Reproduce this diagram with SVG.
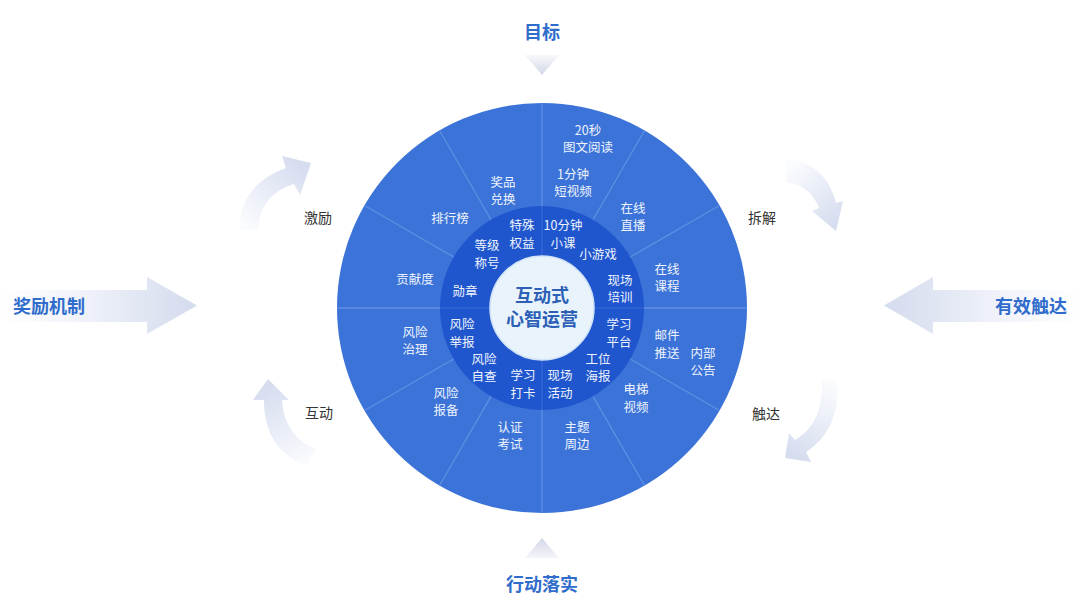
<svg xmlns="http://www.w3.org/2000/svg" width="1080" height="605" viewBox="0 0 1080 605">
<defs>
<style>
text{font-family:"Noto Sans CJK SC","Noto Sans",sans-serif;text-anchor:middle;dominant-baseline:central}
.t{font-size:12.5px;fill:#eef3fd}
.ttl{font-size:18px;font-weight:bold;fill:#2f6ccb}
.side{font-size:14px;fill:#333333}
.ctr{font-size:18px;font-weight:bold;fill:#2c5fb6}
.div{stroke:#5d8fe3;stroke-width:1.3;fill:none}
.divi{stroke:#3a6ad8;stroke-width:1.2;fill:none}
</style>
<linearGradient id="gL" gradientUnits="userSpaceOnUse" x1="0" y1="0" x2="197" y2="0">
<stop offset="0" stop-color="#ffffff"/><stop offset="0.35" stop-color="#f3f5fb"/><stop offset="1" stop-color="#d4dbed"/>
</linearGradient>
<linearGradient id="gR" gradientUnits="userSpaceOnUse" x1="1080" y1="0" x2="884" y2="0">
<stop offset="0" stop-color="#ffffff"/><stop offset="0.35" stop-color="#f3f5fb"/><stop offset="1" stop-color="#d4dbed"/>
</linearGradient>
<linearGradient id="gT" gradientUnits="userSpaceOnUse" x1="0" y1="55" x2="0" y2="75">
<stop offset="0" stop-color="#f7f8fb"/><stop offset="1" stop-color="#d3d8e7"/>
</linearGradient>
<linearGradient id="gB" gradientUnits="userSpaceOnUse" x1="0" y1="538" x2="0" y2="558">
<stop offset="0" stop-color="#d3d8e7"/><stop offset="1" stop-color="#f5f6fa"/>
</linearGradient>
<linearGradient id="g1" gradientUnits="userSpaceOnUse" x1="248" y1="230" x2="300" y2="165">
<stop offset="0" stop-color="#fbfcfe"/><stop offset="1" stop-color="#d6ddef"/>
</linearGradient>
<linearGradient id="g2" gradientUnits="userSpaceOnUse" x1="785" y1="170" x2="835" y2="225">
<stop offset="0" stop-color="#fbfcfe"/><stop offset="1" stop-color="#d6ddef"/>
</linearGradient>
<linearGradient id="g3" gradientUnits="userSpaceOnUse" x1="830" y1="382" x2="793" y2="455">
<stop offset="0" stop-color="#fbfcfe"/><stop offset="1" stop-color="#d6ddef"/>
</linearGradient>
<linearGradient id="g4" gradientUnits="userSpaceOnUse" x1="312" y1="462" x2="268" y2="385">
<stop offset="0" stop-color="#fbfcfe"/><stop offset="1" stop-color="#d6ddef"/>
</linearGradient>
</defs>
<rect width="1080" height="605" fill="#ffffff"/>

<g id="connectors">
<path d="M0,290 L147,290 L147,277 L197,305.5 L147,334 L147,322 L0,322 Z" fill="url(#gL)"/>
<path d="M1080,290 L933,290 L933,277 L884,305.5 L933,334 L933,322 L1080,322 Z" fill="url(#gR)"/>
<path d="M525,55 L559,55 L542,75 Z" fill="url(#gT)"/>
<path d="M542,538 L559,558 L525,558 Z" fill="url(#gB)"/>
<path d="M239,230 C239,201 255,179 286,168 L282,156 L311,163 L300,195 L294,184 C271,191 259,207 258,230 Z" fill="url(#g1)"/>
<path d="M786,160 C810,160 829,175 836,203 L843,201 L836,231 L812,211 L819,208 C814,195 804,184 786,182 Z" fill="url(#g2)"/>
<path d="M837,380 C840,410 830,437 806,452 L811,462 L785,458 L789,433 L795,440 C815,428 823,408 822,380 Z" fill="url(#g3)"/>
<path d="M268,379 L289,400 L282,400 C283,422 294,440 316,449 L306,466 C279,455 264,434 264,400 L253,400 Z" fill="url(#g4)"/>
</g>

<g id="title-top"><text class="ttl" x="542" y="31">目标</text></g>
<g id="title-bottom"><text class="ttl" x="542" y="583">行动落实</text></g>
<g id="title-left"><text class="ttl" x="49" y="305">奖励机制</text></g>
<g id="title-right"><text class="ttl" x="1031" y="305">有效触达</text></g>
<g id="label-jili"><text class="side" x="318" y="217">激励</text></g>
<g id="label-hudong"><text class="side" x="319" y="412">互动</text></g>
<g id="label-chaijie"><text class="side" x="762" y="217">拆解</text></g>
<g id="label-chuda"><text class="side" x="766" y="413">触达</text></g>

<g id="outer-ring">
<circle cx="542" cy="308" r="205" fill="#3c73d8"/>
<path class="div" d="M644,308 L747,308 M630.3,359 L719.5,410.5 M593,396.3 L644.5,485.5 M542,410 L542,513 M491,396.3 L439.5,485.5 M453.7,359 L364.5,410.5 M440,308 L337,308 M453.7,257 L364.5,205.5 M491,219.7 L439.5,130.5 M542,206 L542,103 M593,219.7 L644.5,130.5 M630.3,257 L719.5,205.5"/>
<text class="t" x="588" y="129">20秒</text><text class="t" x="588" y="146">图文阅读</text>
<text class="t" x="573" y="173">1分钟</text><text class="t" x="573" y="190">短视频</text>
<text class="t" x="503" y="181">奖品</text><text class="t" x="503" y="198.5">兑换</text>
<text class="t" x="450" y="217">排行榜</text>
<text class="t" x="415" y="278">贡献度</text>
<text class="t" x="633" y="207">在线</text><text class="t" x="633" y="224">直播</text>
<text class="t" x="667" y="268">在线</text><text class="t" x="667" y="285">课程</text>
<text class="t" x="415" y="331">风险</text><text class="t" x="415" y="348">治理</text>
<text class="t" x="667" y="334">邮件</text><text class="t" x="667" y="352">推送</text>
<text class="t" x="703" y="352">内部</text><text class="t" x="703" y="369">公告</text>
<text class="t" x="636" y="388">电梯</text><text class="t" x="636" y="406">视频</text>
<text class="t" x="446" y="392">风险</text><text class="t" x="446" y="409">报备</text>
<text class="t" x="510" y="426">认证</text><text class="t" x="510" y="443">考试</text>
<text class="t" x="577" y="426">主题</text><text class="t" x="577" y="443">周边</text>
</g>

<g id="inner-ring">
<circle cx="542" cy="308" r="102" fill="#1f56cd"/>
<path class="divi" d="M594,308 L644,308 M542,360 L542,410 M490,308 L440,308 M542,256 L542,206"/>
<text class="t" x="522" y="224">特殊</text><text class="t" x="522" y="242">权益</text>
<text class="t" x="563" y="224">10分钟</text><text class="t" x="563" y="242">小课</text>
<text class="t" x="487" y="244">等级</text><text class="t" x="487" y="262">称号</text>
<text class="t" x="598" y="253">小游戏</text>
<text class="t" x="620" y="279">现场</text><text class="t" x="620" y="296">培训</text>
<text class="t" x="465" y="290">勋章</text>
<text class="t" x="462" y="323">风险</text><text class="t" x="462" y="341">举报</text>
<text class="t" x="619" y="323">学习</text><text class="t" x="619" y="341">平台</text>
<text class="t" x="484" y="358">风险</text><text class="t" x="484" y="375">自查</text>
<text class="t" x="598" y="358">工位</text><text class="t" x="598" y="375">海报</text>
<text class="t" x="523" y="374">学习</text><text class="t" x="523" y="392">打卡</text>
<text class="t" x="560" y="374">现场</text><text class="t" x="560" y="392">活动</text>
</g>

<g id="center">
<circle cx="542" cy="308" r="52" fill="#e9f3fc" stroke="#cfe2f7" stroke-width="1.5"/>
<text class="ctr" x="542" y="294">互动式</text>
<text class="ctr" x="542" y="318">心智运营</text>
</g>
</svg>
